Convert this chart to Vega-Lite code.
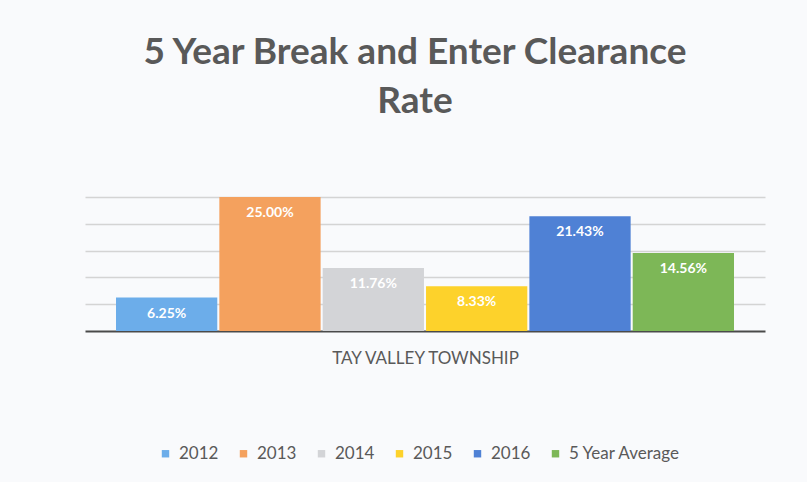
{
  "$schema": "https://vega.github.io/schema/vega-lite/v6.json",
  "width": 680,
  "height": 134,
  "autosize": {"type": "none"},
  "padding": {"left": 85, "top": 197, "right": 42, "bottom": 151},
  "background": "#f9fafc",
  "title": {
    "text": ["5 Year Break and Enter Clearance", "Rate"],
    "anchor": "middle",
    "frame": "group",
    "offset": 76,
    "dx": -10,
    "font": "Lato",
    "fontSize": 37,
    "fontWeight": "bold",
    "color": "#595959",
    "lineHeight": 49
  },
  "config": {
    "view": {"stroke": null},
    "font": "Lato"
  },
  "data": {
    "values": [
      {"series": "2012", "rate": 0.0625},
      {"series": "2013", "rate": 0.25},
      {"series": "2014", "rate": 0.1176},
      {"series": "2015", "rate": 0.0833},
      {"series": "2016", "rate": 0.2143},
      {"series": "5 Year Average", "rate": 0.1456}
    ]
  },
  "encoding": {
    "x": {
      "field": "series",
      "type": "nominal",
      "sort": null,
      "scale": {"paddingInner": 0.02, "paddingOuter": 0.3},
      "axis": {
        "title": "TAY VALLEY TOWNSHIP",
        "labels": false,
        "ticks": false,
        "domainColor": "#4a4a4a",
        "domainWidth": 2,
        "titleFont": "Lato",
        "titleFontSize": 17,
        "titleFontWeight": "normal",
        "titleColor": "#595959",
        "titlePadding": 19
      }
    },
    "y": {
      "field": "rate",
      "type": "quantitative",
      "scale": {"domain": [0, 0.25], "nice": false},
      "axis": {
        "title": null,
        "labels": false,
        "ticks": false,
        "domain": false,
        "values": [0.05, 0.1, 0.15, 0.2, 0.25],
        "gridColor": "#d4d4d4",
        "gridWidth": 1.5
      }
    }
  },
  "layer": [
    {
      "mark": {"type": "bar"},
      "encoding": {
        "color": {
          "field": "series",
          "type": "nominal",
          "sort": null,
          "scale": {
            "domain": ["2012", "2013", "2014", "2015", "2016", "5 Year Average"],
            "range": ["#6cadea", "#f4a15e", "#d3d4d7", "#fdd22b", "#4f81d5", "#7db757"]
          },
          "legend": {
            "title": null,
            "orient": "none",
            "direction": "horizontal",
            "legendX": 72,
            "legendY": 248,
            "symbolType": "square",
            "symbolSize": 55,
            "symbolStrokeWidth": 0,
            "labelFont": "Lato",
            "labelFontSize": 17,
            "labelColor": "#595959",
            "columnPadding": 16,
            "labelOffset": 5
          }
        }
      }
    },
    {
      "mark": {
        "type": "text",
        "baseline": "middle",
        "align": "center",
        "dy": 16,
        "color": "white",
        "fontSize": 14,
        "fontWeight": "bold",
        "font": "Lato"
      },
      "encoding": {
        "text": {"field": "rate", "type": "quantitative", "format": ".2%"}
      }
    }
  ]
}
